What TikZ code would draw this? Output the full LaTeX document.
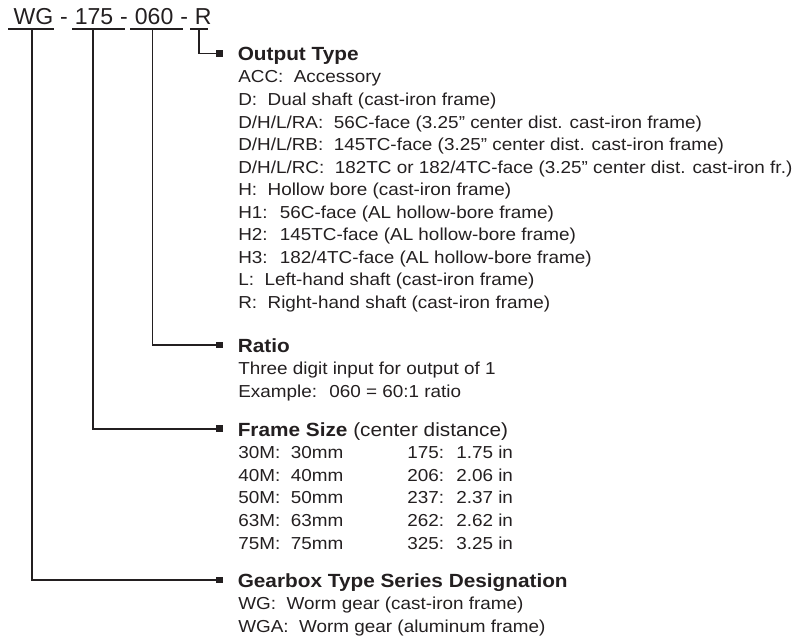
\documentclass[tikz,border=0pt]{standalone}
\usepackage{fontspec}
\setmainfont{Liberation Sans}[FakeStretch=1.09]
\newfontfamily\codefont{Liberation Sans}
\usepackage{tikz}
\usetikzlibrary{positioning, calc}
\definecolor{ink}{RGB}{35,31,32}
\tikzstyle{codetxt} = [inner sep=0pt, 
font=\codefont\fontsize{17.3}{20}\selectfont]
\tikzstyle{headtxt} = [inner sep=0pt, 
anchor=base west, 
font=\fontsize{14.3}{17}\selectfont\bfseries]
\tikzstyle{bodytxt} = [inner sep=0pt, 
anchor=base west, 
align=left, 
font=\fontsize{13}{16.9}\selectfont]
\tikzstyle{endsq} = [rectangle, fill=ink, inner sep=0pt, minimum size=5.2pt]
\tikzstyle{link} = [line width=1.4pt, draw=ink]
\tikzstyle{uline} = [line width=1.1pt, draw=ink]

\begin{document}
\begin{tikzpicture}[x=0.75pt, y=-0.75pt, color=ink, text=ink]
        \useasboundingbox (0,0) rectangle (796,640);

        % Codigo del modelo
        \node[codetxt, anchor=base west] (wg) at (13.3,24) {WG};
        \node[codetxt, base right=4.8pt of wg] (dash1) {-};
        \node[codetxt, base right=4.8pt of dash1] (size) {175};
        \node[codetxt, base right=4.8pt of size] (dash2) {-};
        \node[codetxt, base right=4.8pt of dash2] (ratio) {060};
        \node[codetxt, base right=4.8pt of ratio] (dash3) {-};
        \node[codetxt, base right=4.8pt of dash3] (otype) {R};

        \draw[uline] (8,29) -- (54,29);
        \draw[uline] (72,29) -- (125,29);
        \draw[uline] (130,29) -- (183,29);
        \draw[uline] (190,29) -- (208,29);

        \coordinate (wgTap) at (31.7,29);
        \coordinate (sizeTap) at (93.3,29);
        \coordinate (ratioTap) at (152.5,29);
        \coordinate (otypeTap) at (199,29);

        % Bloques de texto (base = ultima linea)
        \node[headtxt] (outHead) at (237.5,60.5) {Output Type};
        \node[bodytxt] (outBody) at (238,308.3) {ACC:~ Accessory\\
        D:~ Dual shaft (cast-iron frame)\\
        D/H/L/RA:~ 56C-face (3.25” center dist. cast-iron frame)\\
        D/H/L/RB:~ 145TC-face (3.25” center dist. cast-iron frame)\\
        D/H/L/RC:~ 182TC or 182/4TC-face (3.25” center dist. cast-iron fr.)\\
        H:~ Hollow bore (cast-iron frame)\\
        H1:~ 56C-face (AL hollow-bore frame)\\
        H2:~ 145TC-face (AL hollow-bore frame)\\
        H3:~ 182/4TC-face (AL hollow-bore frame)\\
        L:~ Left-hand shaft (cast-iron frame)\\
        R:~ Right-hand shaft (cast-iron frame)};

        \node[headtxt] (ratHead) at (237.5,352) {Ratio};
        \node[bodytxt] (ratBody) at (238,397) {Three digit input for output of 1\\
        Example:~ 060 = 60:1 ratio};

        \node[headtxt] (frmHead) at (237.5,436) {Frame Size \mdseries(center distance)};
        \node[bodytxt] (frmBodyA) at (238,549) {30M:~ 30mm\\40M:~ 40mm\\50M:~ 50mm\\63M:~ 63mm\\75M:~ 75mm};
        \node[bodytxt] (frmBodyB) at (407,549) {175:~ 1.75 in\\206:~ 2.06 in\\237:~ 2.37 in\\262:~ 2.62 in\\325:~ 3.25 in};

        \node[headtxt] (gbHead) at (237.5,587.3) {Gearbox Type Series Designation};
        \node[bodytxt] (gbBody) at (238,632.3) {WG:~ Worm gear (cast-iron frame)\\
        WGA:~ Worm gear (aluminum frame)};

        % Marcas
        \node[endsq] (outSq) at ($(outHead.base west)+(-18,-7)$) {};
        \node[endsq] (ratSq) at ($(ratHead.base west)+(-18,-7)$) {};
        \node[endsq] (frmSq) at ($(frmHead.base west)+(-18,-7.3)$) {};
        \node[endsq] (gbSq) at ($(gbHead.base west)+(-18,-7.3)$) {};

        % Conexiones
        \draw[link] (otypeTap) |- (outSq);
        \draw[link] (ratioTap) |- (ratSq);
        \draw[link] (sizeTap) |- (frmSq);
        \draw[link] (wgTap) |- (gbSq);

    \end{tikzpicture}
\end{document}
